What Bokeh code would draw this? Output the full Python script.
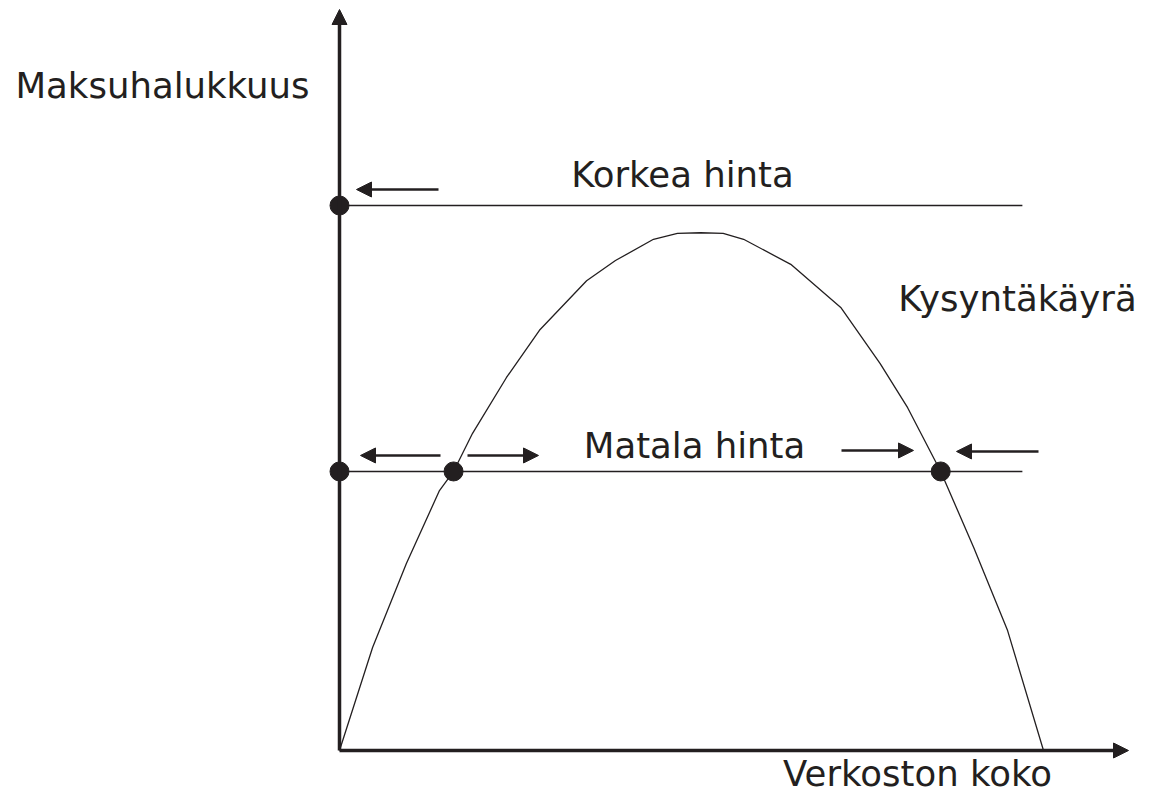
from bokeh.plotting import figure
from bokeh.models import Range1d, Arrow, NormalHead, Label
from bokeh.embed import file_html
from bokeh.resources import INLINE

# ---- data (network size 0..100, willingness to pay: high price = 100) ----
curve_x = [0, 4.7, 9.5, 14.2, 16.2, 18.9, 23.7, 28.4, 35.1, 39.2, 44.6, 48.0, 51.3,
           54.5, 57.4, 64.1, 71.2, 76.8, 80.7, 85.4, 90.1, 94.9, 100]
curve_y = [0, 18.9, 34.3, 47.7, 51.2, 58.2, 68.4, 77.1, 86.2, 89.9, 93.8, 94.9, 95.0,
           94.9, 93.8, 89.2, 81.3, 71.0, 62.9, 51.2, 37.2, 22.0, 0]
high_price = 100.0
low_price = 51.2
price_line_end = 97.0
dots_x = [0, 0, 16.2, 85.4]
dots_y = [high_price, low_price, low_price, low_price]
y_title = "Maksuhalukkuus"
x_title = "Verkoston koko"
labels = ["Korkea hinta", "Matala hinta", "Kysyntäkäyrä"]

# ---- pixel mapping helpers (picture px -> data units) ----
W, H = 1151, 796
OX, OY = 339, 750          # origin in picture
SX, SY = 7.04, 5.45        # px per data unit

def dx(px):
    return (px - OX) / SX

def dy(py):
    return (OY - py) / SY

INK = "#231f20"
FONT = "DejaVu Sans"
FS = "35.5px"
TEXT_SHIFT = -14   # empirical baseline correction

p = figure(width=W, height=H, output_backend="svg", toolbar_location=None,
           x_range=Range1d(dx(0), dx(W)), y_range=Range1d(dy(H), dy(0)),
           x_axis_type=None, y_axis_type=None, min_border=0,
           outline_line_color=None, background_fill_color="white",
           border_fill_color="white")
p.grid.visible = False

# price lines
p.line([0, price_line_end], [high_price, high_price], line_color=INK, line_width=1.4)
p.line([0, price_line_end], [low_price, low_price], line_color=INK, line_width=1.4)

# demand curve
p.line(curve_x, curve_y, line_color=INK, line_width=1.3)

# axes with arrows
def arrow(x0, y0, x1, y1, lw, size):
    p.add_layout(Arrow(x_start=x0, y_start=y0, x_end=x1, y_end=y1,
                       line_color=INK, line_width=lw,
                       end=NormalHead(size=size, fill_color=INK, line_color=INK, line_width=1)))

arrow(0, 0, dx(1128), 0, 3.5, 15)
arrow(0, 0, 0, dy(9), 3.5, 15)

# dots
p.scatter(dots_x, dots_y, size=19, fill_color=INK, line_color=INK)

# small arrows
hp = lambda off: high_price + off / SY
lp = lambda off: low_price + off / SY
arrow(dx(438), hp(16), dx(356), hp(16), 2.6, 15)
arrow(dx(440), lp(16), dx(360), lp(16), 2.6, 15)
arrow(dx(467), lp(16), dx(538), lp(16), 2.6, 15)
arrow(dx(841), lp(21), dx(913), lp(21), 2.6, 15)
arrow(dx(1038), lp(20), dx(956), lp(20), 2.6, 15)

def label(txt, cx, baseline):
    p.add_layout(Label(x=dx(cx), y=dy(baseline + TEXT_SHIFT), text=txt, text_font=FONT,
                       text_font_size=FS, text_color=INK, text_align="center",
                       text_baseline="alphabetic"))

label(y_title, 162, 99)
label(labels[0], 682, 188)
label(labels[1], 694, 459)
label(labels[2], 1017, 312)
label(x_title, 917, 787)

open("out.html", "w").write(file_html(p, INLINE))
